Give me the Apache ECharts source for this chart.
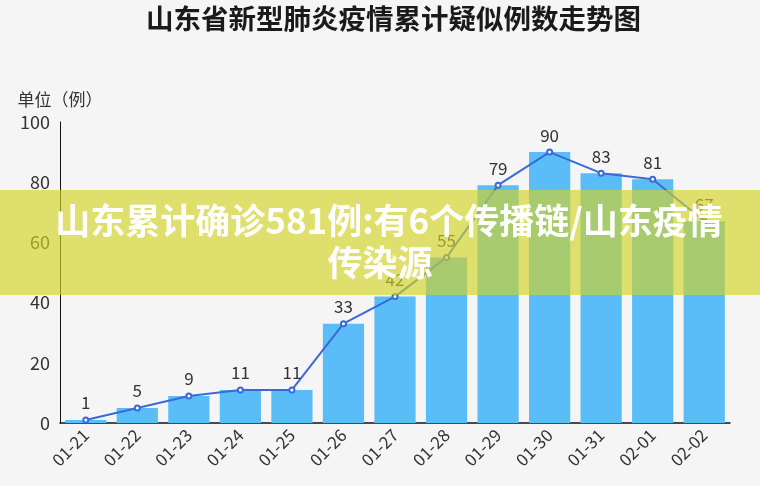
<!DOCTYPE html>
<html>
<head>
<meta charset="utf-8">
<script src="https://cdn.jsdelivr.net/npm/echarts@6/dist/echarts.min.js"></script>
<style>
  html, body { margin: 0; padding: 0; background: #f5f5f5; }
  #chart { width: 760px; height: 486px; }
</style>
</head>
<body>
<div id="chart"></div>
<script>
// 日期
const dates = ['01-21', '01-22', '01-23', '01-24', '01-25', '01-26', '01-27',
  '01-28', '01-29', '01-30', '01-31', '02-01', '02-02']
// 累计疑似例数
const suspected = [1, 5, 9, 11, 11, 33, 42, 55, 79, 90, 83, 81, 67]
const yTicks = [0, 20, 40, 60, 80, 100]

const font = '"Noto Sans CJK SC", "Noto Sans", sans-serif'

let myChart = echarts.init(document.getElementById('chart'))
myChart.setOption({
  backgroundColor: '#f5f5f5',
  textStyle: { fontFamily: font },
  title: {
    text: '山东省新型肺炎疫情累计疑似例数走势图',
    left: 141,
    top: 0,
    textStyle: { fontSize: 27.5, fontWeight: 'bold', color: '#1a1a1a', fontFamily: font }
  },
  grid: { left: 60, right: 30, top: 122, bottom: 63 },
  xAxis: {
    type: 'category',
    data: dates,
    axisLine: { lineStyle: { color: '#111', width: 1.5 } },
    axisTick: { show: false },
    axisLabel: { rotate: 45, fontSize: 17, color: '#333', margin: 9 }
  },
  yAxis: {
    type: 'value',
    min: yTicks[0],
    max: yTicks[yTicks.length - 1],
    interval: 20,
    name: '单位（例）',
    nameLocation: 'end',
    nameGap: 14,
    nameTextStyle: { fontSize: 17, color: '#333', align: 'center' },
    axisLine: { show: true, lineStyle: { color: '#111', width: 1 } },
    axisTick: { show: false },
    splitLine: { show: false },
    axisLabel: { fontSize: 18, color: '#333', margin: 10 }
  },
  series: [
    {
      type: 'bar',
      data: suspected,
      barCategoryGap: '20%',
      itemStyle: { color: '#5bbdf8' },
      z: 2
    },
    {
      type: 'line',
      data: suspected,
      symbol: 'emptyCircle',
      symbolSize: 5,
      lineStyle: { color: '#3a6ad6', width: 2 },
      itemStyle: { color: '#3a6ad6', borderWidth: 1.5 },
      label: { show: true, position: 'top', distance: 5, fontSize: 17, color: '#333' },
      z: 3
    }
  ],
  graphic: [
    {
      type: 'rect',
      left: 0,
      top: 190,
      z: 100,
      shape: { width: 760, height: 105 },
      style: { fill: 'rgba(210,210,37,0.65)' }
    },
    {
      type: 'text',
      x: 389,
      y: 203,
      z: 101,
      style: {
        text: '山东累计确诊581例:有6个传播链/山东疫情',
        fill: '#fff',
        font: 'bold 35px ' + font,
        textAlign: 'center'
      }
    },
    {
      type: 'text',
      x: 380,
      y: 245,
      z: 101,
      style: {
        text: '传染源',
        fill: '#fff',
        font: 'bold 35px ' + font,
        textAlign: 'center'
      }
    }
  ]
})
</script>
</body>
</html>
